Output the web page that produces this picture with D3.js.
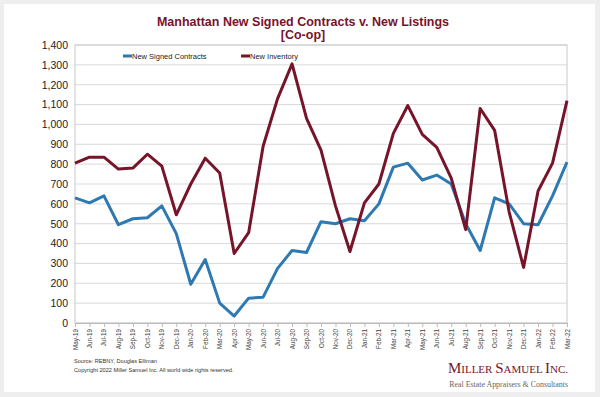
<!DOCTYPE html>
<html>
<head>
<meta charset="utf-8">
<script src="https://cdn.jsdelivr.net/npm/d3@7"></script>
<style>
  body { margin: 0; background: #eeeeee; }
  svg { display: block; font-family: Arial, "Liberation Sans", sans-serif; }
</style>
</head>
<body>
<div id="chart"></div>
<script>
const months = ["May-19","Jun-19","Jul-19","Aug-19","Sep-19","Oct-19","Nov-19","Dec-19",
	"Jan-20","Feb-20","Mar-20","Apr-20","May-20","Jun-20","Jul-20","Aug-20","Sep-20","Oct-20","Nov-20","Dec-20",
	"Jan-21","Feb-21","Mar-21","Apr-21","May-21","Jun-21","Jul-21","Aug-21","Sep-21","Oct-21","Nov-21","Dec-21",
	"Jan-22","Feb-22","Mar-22"];
const signedContracts = [630, 605, 640, 495, 525, 530, 590, 450,
	195, 320, 100, 35, 125, 130, 275, 365, 355, 510, 500, 525,
	515, 600, 785, 805, 720, 745, 700, 500, 365, 630, 600, 500,
	495, 640, 810];
const newInventory = [805, 835, 835, 775, 780, 850, 790, 545,
	700, 830, 755, 350, 455, 890, 1130, 1305, 1030, 870, 590, 360,
	605, 700, 955, 1095, 950, 885, 730, 470, 1080, 970, 560, 280,
	665, 805, 1120];
const yTicks = [0,100,200,300,400,500,600,700,800,900,1000,1100,1200,1300,1400];

const W = 600, H = 397;
const margin = { top: 45, right: 33, bottom: 74, left: 75 };
const red = "#76142a", blue = "#2f79b3";

const svg = d3.select("#chart").append("svg")
	.attr("width", W)
	.attr("height", H);

// card
svg.append("rect")
	.attr("x", 4).attr("y", 4)
	.attr("width", 591).attr("height", 388)
	.attr("fill", "#fff");

const x = d3.scalePoint()
	.domain(months)
	.range([margin.left, W - margin.right]);
const y = d3.scaleLinear()
	.domain([0, 1400])
	.range([H - margin.bottom, margin.top]);

// grid
svg.append("g")
	.selectAll("line")
	.data(yTicks)
	.enter()
	.append("line")
	.attr("x1", margin.left).attr("x2", W - margin.right)
	.attr("y1", d => y(d)).attr("y2", d => y(d))
	.attr("stroke", "#d9d9d9")
	.attr("stroke-width", 1);

// plot border
svg.append("rect")
	.attr("x", margin.left).attr("y", margin.top)
	.attr("width", W - margin.right - margin.left)
	.attr("height", y(0) - margin.top)
	.attr("fill", "none")
	.attr("stroke", "#c8c8c8");

// Y axis
const yAxis = d3.axisLeft(y)
	.tickValues(yTicks)
	.tickSize(0)
	.tickPadding(7)
	.tickFormat(d3.format(","));
svg.append("g")
	.attr("transform", "translate(" + margin.left + ",0)")
	.call(yAxis)
	.call(g => g.select(".domain").remove())
	.selectAll("text")
	.attr("font-size", 10.5)
	.attr("fill", "#222");

// X axis
const xAxis = d3.axisBottom(x).tickSize(4).tickPadding(3);
const xg = svg.append("g")
	.attr("transform", "translate(0," + y(0) + ")")
	.call(xAxis);
xg.select(".domain").attr("stroke", "#bbb");
xg.selectAll(".tick line").attr("stroke", "#bbb");
xg.selectAll("text")
	.attr("font-size", 6.3)
	.attr("fill", "#444")
	.attr("transform", "rotate(-90)")
	.attr("text-anchor", "end")
	.attr("dy", "0.32em")
	.attr("x", -6)
	.attr("y", 0);

// lines
const line = d3.line()
	.x((d, i) => x(months[i]))
	.y(d => y(d));
svg.append("path")
	.datum(signedContracts)
	.attr("d", line)
	.attr("fill", "none")
	.attr("stroke", blue)
	.attr("stroke-width", 3)
	.attr("stroke-linejoin", "round");
svg.append("path")
	.datum(newInventory)
	.attr("d", line)
	.attr("fill", "none")
	.attr("stroke", red)
	.attr("stroke-width", 3)
	.attr("stroke-linejoin", "round");

// legend
const legend = [
	{ label: "New Signed Contracts", color: blue, x: 123 },
	{ label: "New Inventory", color: red, x: 241 }
];
const lg = svg.append("g").selectAll("g")
	.data(legend)
	.enter()
	.append("g")
	.attr("transform", d => "translate(" + d.x + ",56)");
lg.append("line")
	.attr("x1", 0).attr("x2", 9)
	.attr("stroke", d => d.color)
	.attr("stroke-width", 3);
lg.append("text")
	.attr("x", 9).attr("dy", "0.35em")
	.attr("font-size", 7.5)
	.attr("fill", "#222")
	.text(d => d.label);

// title
svg.append("text")
	.attr("x", 303).attr("y", 26)
	.attr("text-anchor", "middle")
	.attr("font-size", 12.5)
	.attr("font-weight", "bold")
	.attr("fill", red)
	.text("Manhattan New Signed Contracts v. New Listings");
svg.append("text")
	.attr("x", 303).attr("y", 39)
	.attr("text-anchor", "middle")
	.attr("font-size", 12.5)
	.attr("font-weight", "bold")
	.attr("fill", red)
	.text("[Co-op]");

// source
svg.append("text")
	.attr("x", 74).attr("y", 363)
	.attr("font-size", 5.6)
	.attr("fill", "#333")
	.text("Source: REBNY, Douglas Elliman");
svg.append("text")
	.attr("x", 74).attr("y", 372)
	.attr("font-size", 5.6)
	.attr("fill", "#333")
	.text("Copyright 2022 Miller Samuel Inc.  All world wide rights reserved.");

// logo
const logo = svg.append("text")
	.attr("x", 568).attr("y", 373)
	.attr("text-anchor", "end")
	.attr("font-family", "'Liberation Serif', 'DejaVu Serif', serif")
	.attr("fill", red);
[["M", 15], ["ILLER ", 11], ["S", 15], ["AMUEL ", 11], ["I", 15], ["NC.", 11]].forEach(([t, s]) => {
	logo.append("tspan").attr("font-size", s).text(t);
});
svg.append("text")
	.attr("x", 568).attr("y", 387)
	.attr("text-anchor", "end")
	.attr("font-family", "'Liberation Serif', 'DejaVu Serif', serif")
	.attr("font-size", 7.9)
	.attr("fill", "#666")
	.text("Real Estate Appraisers & Consultants");
</script>
</body>
</html>
